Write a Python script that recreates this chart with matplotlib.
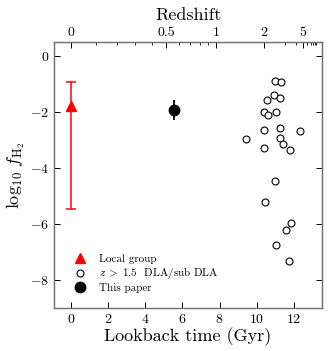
import numpy as np
import matplotlib
matplotlib.use("Agg")
import matplotlib.pyplot as plt

plt.rcParams['font.family'] = 'serif'
plt.rcParams['font.serif'] = ['cmr10']
plt.rcParams['mathtext.fontset'] = 'cm'
plt.rcParams['axes.formatter.use_mathtext'] = True

# local group (lookback time, log f, upper, lower)
lg_t = [0.0]
lg_f = [-1.78]
lg_up = [-0.92]
lg_lo = [-5.46]

# this paper
tp_t = [5.55]
tp_f = [-1.93]
tp_up = [-1.58]
tp_lo = [-2.29]

# z > 1.5 DLA / sub-DLA
dla_t = [11.01, 11.32, 10.92, 11.24, 10.54, 10.38, 11.03, 10.59, 11.28, 10.40, 12.31,
         9.44, 11.23, 11.44, 10.38, 11.80, 11.01, 10.43, 11.87, 11.60, 11.03, 11.73]
dla_f = [-0.88, -0.92, -1.37, -1.49, -1.58, -1.98, -1.99, -2.11, -2.55, -2.64, -2.67,
         -2.95, -2.91, -3.14, -3.28, -3.34, -4.45, -5.19, -5.97, -6.21, -6.73, -7.30]

z_major = [0, 0.5, 1, 2, 5]
z_major_lbl = ['0', '0.5', '1', '2', '5']
z_minor = [0.1, 0.2, 0.3, 0.4, 0.6, 0.7, 0.8, 0.9, 3, 4, 6, 7, 8, 9, 10]


def lookback(z, H0=69.0, Om=0.3):
    zz = np.linspace(0, z, 2000)
    E = np.sqrt(Om * (1 + zz) ** 3 + (1 - Om))
    th = 977.8 / H0
    return th * np.trapezoid(1.0 / ((1 + zz) * E), zz)


fig = plt.figure(figsize=(3.32, 3.51), dpi=100)
ax = fig.add_axes([0.1636, 0.1217, 0.8054, 0.758])

h1 = ax.errorbar(lg_t, lg_f,
                 yerr=[np.array(lg_f) - np.array(lg_lo), np.array(lg_up) - np.array(lg_f)],
                 fmt='^', color='red', ms=6.5, lw=1.1, capsize=3.3, capthick=1.1)
h2, = ax.plot(dla_t, dla_f, 'o', mfc='white', mec='black', ms=5, mew=0.8, ls='none')
h3 = ax.errorbar(tp_t, tp_f,
                 yerr=[np.array(tp_f) - np.array(tp_lo), np.array(tp_up) - np.array(tp_f)],
                 fmt='o', color='black', ms=7.5, lw=1.3, capsize=0)

ax.set_xlim(-0.9, 13.5)
ax.set_ylim(-9, 0.5)
ax.set_xticks([0, 2, 4, 6, 8, 10, 12])
ax.set_yticks([0, -2, -4, -6, -8])
ax.tick_params(direction='in', top=False, right=True, labelsize=10, length=4, width=0.7)
ax.set_xlabel('Lookback time (Gyr)', fontsize=13, labelpad=1)
ax.set_ylabel(r'$\log_{10}\, f_{\rm H_2}$', fontsize=13, labelpad=2)
for s in ax.spines.values():
    s.set_color('0.45')
    s.set_linewidth(0.9)

top = ax.twiny()
top.set_xlim(ax.get_xlim())
top.set_xticks([lookback(z) for z in z_major])
top.set_xticklabels(z_major_lbl)
top.set_xticks([lookback(z) for z in z_minor], minor=True)
top.tick_params(direction='in', which='major', labelsize=10, length=4, width=0.7, pad=2)
top.tick_params(direction='in', which='minor', length=2, width=0.6)
top.set_xlabel('Redshift', fontsize=13, labelpad=5)
for s in top.spines.values():
    s.set_color('0.45')
    s.set_linewidth(0.9)

ax.legend([h1[0], h2, h3[0]],
          ['Local group', r'$z\;>\;1.5$  DLA/sub DLA', 'This paper'],
          loc='lower left', frameon=False, fontsize=8,
          handletextpad=0.8, borderaxespad=1.0, labelspacing=0.12, handlelength=1.8)

fig.savefig('out.png', dpi=100)
